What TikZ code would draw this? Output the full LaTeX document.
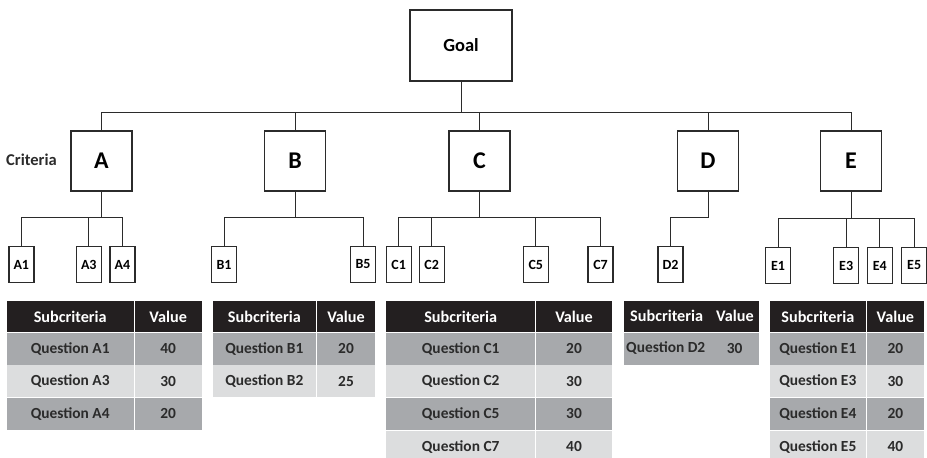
\documentclass[tikz,border=0pt]{standalone}
\usepackage{fontspec}
\setmainfont{Carlito}
\begin{document}
\definecolor{hdr}{HTML}{231F20}
\definecolor{rowdark}{HTML}{A7A9AC}
\definecolor{rowlight}{HTML}{DCDDDE}
\definecolor{ink}{HTML}{2B2B2B}
\begin{tikzpicture}[x=1pt,y=-1pt,
  font=\bfseries,
  goalbox/.style={draw=ink,line width=2pt,minimum width=102pt,minimum height=71pt,inner sep=0pt,font=\fontsize{18.5}{18.5}\bfseries\selectfont},
  critbox/.style={draw=ink,line width=1.5pt,minimum width=61pt,minimum height=60pt,inner sep=0pt,font=\fontsize{24}{24}\bfseries\selectfont},
  subbox/.style={draw=ink,line width=1.4pt,minimum width=25pt,minimum height=35.5pt,inner sep=0pt,font=\fontsize{14}{14}\bfseries\selectfont},
  link/.style={draw=ink,line width=1pt},
  cell/.style={anchor=north west,inner sep=0pt,text=ink,font=\fontsize{15.4}{15.4}\bfseries\selectfont},
  headtext/.style={inner sep=0pt,text=white,font=\fontsize{16.2}{16.2}\bfseries\selectfont},
  headcell/.style={cell,fill=hdr},
  darkcell/.style={cell,fill=rowdark},
  lightcell/.style={cell,fill=rowlight}]
\useasboundingbox (0,0) rectangle (927,458);
\clip (0,0) rectangle (927,458);

% goal and criteria
\node[goalbox] (goal) at (461,45.5) {Goal};
\node[critbox] (A) at (101.5,161) {A};
\node[critbox] (B) at (295,161) {B};
\node[critbox] (C) at (479.5,161) {C};
\node[critbox] (D) at (708,161) {D};
\node[critbox] (E) at (851,161) {E};
\node[font=\fontsize{16.5}{16.5}\bfseries\selectfont,text=ink] (crit) at (31.5,160) {Criteria};

% subcriteria
\node[subbox] (A1) at (21.3,264.5) {A1};
\node[subbox] (A3) at (88.8,264.5) {A3};
\node[subbox] (A4) at (122.5,264.5) {A4};
\node[subbox] (B1) at (224,264.5) {B1};
\node[subbox] (B5) at (363,264.5) {B5};
\node[subbox] (C1) at (398.7,264.5) {C1};
\node[subbox] (C2) at (431.7,264.5) {C2};
\node[subbox] (C5) at (535.8,264.5) {C5};
\node[subbox] (C7) at (600.5,264.5) {C7};
\node[subbox] (D2) at (670.5,264.5) {D2};
\node[subbox] (E1) at (778,265.5) {E1};
\node[subbox] (E3) at (846.2,265.5) {E3};
\node[subbox] (E4) at (879.8,265.5) {E4};
\node[subbox] (E5) at (914.2,265.5) {E5};

% connector rails
\coordinate (bus) at (0,112.7);
\coordinate (subbus) at (0,217.3);
\coordinate (subbusE) at (0,218.3);

\draw[link] (goal.south) -- (goal.south |- bus);
\draw[link] (A.north) -- (A.north |- bus) -- (E.north |- bus) -- (E.north);
\foreach \n in {B,C,D} \draw[link] (\n.north) -- (\n.north |- bus);

\draw[link] (A.south) -- (A.south |- subbus);
\draw[link] (A1.north) -- (A1.north |- subbus) -- (A4.north |- subbus) -- (A4.north);
\draw[link] (A3.north) -- (A3.north |- subbus);

\draw[link] (B.south) -- (B.south |- subbus);
\draw[link] (B1.north) -- (B1.north |- subbus) -- (B5.north |- subbus) -- (B5.north);

\draw[link] (C.south) -- (C.south |- subbus);
\draw[link] (C1.north) -- (C1.north |- subbus) -- (C7.north |- subbus) -- (C7.north);
\foreach \n in {C2,C5} \draw[link] (\n.north) -- (\n.north |- subbus);

\draw[link] (D.south) -- (D.south |- subbus) -- (D2.north |- subbus) -- (D2.north);

\draw[link] (E.south) -- (E.south |- subbusE);
\draw[link] (E1.north) -- (E1.north |- subbusE) -- (E5.north |- subbusE) -- (E5.north);
\foreach \n in {E3,E4} \draw[link] (\n.north) -- (\n.north |- subbusE);

% table row tops and heights
\def\hy{300.7}\def\hh{31}
\def\ra{332.7}\def\rb{365.2}\def\rc{397.9}\def\rd{430.6}\def\rh{31.6}

% table A
\node[headcell,minimum width=126.6pt,minimum height=\hh pt] (tAh1) at (6.7,\hy) {};
\node[headtext] (tAh1t) at (tAh1.center) {Subcriteria};
\node[headcell,minimum width=67.4pt,minimum height=\hh pt] (tAh2) at (134.3,\hy) {};
\node[headtext] (tAh2t) at (tAh2.center) {Value};
\foreach \y/\sty/\q/\v [count=\i] in {\ra/darkcell/A1/40,\rb/lightcell/A3/30,\rc/darkcell/A4/20}{
  \node[\sty,minimum width=126.6pt,minimum height=\rh pt] (tAq\i) at (6.7,\y) {};
  \node[cell,anchor=center] (tAqt\i) at (tAq\i.center) {Question \q};
  \node[\sty,minimum width=67.4pt,minimum height=\rh pt] (tAv\i) at (134.3,\y) {};
  \node[cell,anchor=center] (tAvt\i) at (tAv\i.center) {\v};
}

% table B
\node[headcell,minimum width=103pt,minimum height=\hh pt] (tBh1) at (212.7,\hy) {};
\node[headtext] (tBh1t) at (tBh1.center) {Subcriteria};
\node[headcell,minimum width=58.3pt,minimum height=\hh pt] (tBh2) at (316.7,\hy) {};
\node[headtext] (tBh2t) at (tBh2.center) {Value};
\foreach \y/\sty/\q/\v [count=\i] in {\ra/darkcell/B1/20,\rb/lightcell/B2/25}{
  \node[\sty,minimum width=103pt,minimum height=\rh pt] (tBq\i) at (212.7,\y) {};
  \node[cell,anchor=center] (tBqt\i) at (tBq\i.center) {Question \q};
  \node[\sty,minimum width=58.3pt,minimum height=\rh pt] (tBv\i) at (316.7,\y) {};
  \node[cell,anchor=center] (tBvt\i) at (tBv\i.center) {\v};
}

% table C
\node[headcell,minimum width=149pt,minimum height=\hh pt] (tCh1) at (386,\hy) {};
\node[headtext] (tCh1t) at (tCh1.center) {Subcriteria};
\node[headcell,minimum width=75.7pt,minimum height=\hh pt] (tCh2) at (536,\hy) {};
\node[headtext] (tCh2t) at (tCh2.center) {Value};
\foreach \y/\sty/\q/\v [count=\i] in {\ra/darkcell/C1/20,\rb/lightcell/C2/30,\rc/darkcell/C5/30,\rd/lightcell/C7/40}{
  \node[\sty,minimum width=149pt,minimum height=\rh pt] (tCq\i) at (386,\y) {};
  \node[cell,anchor=center] (tCqt\i) at (tCq\i.center) {Question \q};
  \node[\sty,minimum width=75.7pt,minimum height=\rh pt] (tCv\i) at (536,\y) {};
  \node[cell,anchor=center] (tCvt\i) at (tCv\i.center) {\v};
}

% table D (single block, no column rule)
\node[headcell,minimum width=135pt,minimum height=\hh pt] (tDh) at (623.3,\hy) {};
\node[headtext,anchor=west] (tDh1t) at (630,316.2) {Subcriteria};
\node[headtext,anchor=west] (tDh2t) at (716,316.2) {Value};
\node[darkcell,minimum width=135pt,minimum height=\rh pt] (tDr) at (623.3,\ra) {};
\node[cell,anchor=west] (tDqt) at (626,348.5) {Question D2};
\node[cell,anchor=west] (tDvt) at (726.7,348.5) {30};

% table E
\node[headcell,minimum width=96.7pt,minimum height=\hh pt] (tEh1) at (769.3,\hy) {};
\node[headtext] (tEh1t) at (tEh1.center) {Subcriteria};
\node[headcell,minimum width=56.3pt,minimum height=\hh pt] (tEh2) at (867,\hy) {};
\node[headtext] (tEh2t) at (tEh2.center) {Value};
\foreach \y/\sty/\q/\v [count=\i] in {\ra/darkcell/E1/20,\rb/lightcell/E3/30,\rc/darkcell/E4/20,\rd/lightcell/E5/40}{
  \node[\sty,minimum width=96.7pt,minimum height=\rh pt] (tEq\i) at (769.3,\y) {};
  \node[cell,anchor=center] (tEqt\i) at (tEq\i.center) {Question \q};
  \node[\sty,minimum width=56.3pt,minimum height=\rh pt] (tEv\i) at (867,\y) {};
  \node[cell,anchor=center] (tEvt\i) at (tEv\i.center) {\v};
}
\end{tikzpicture}
\end{document}
